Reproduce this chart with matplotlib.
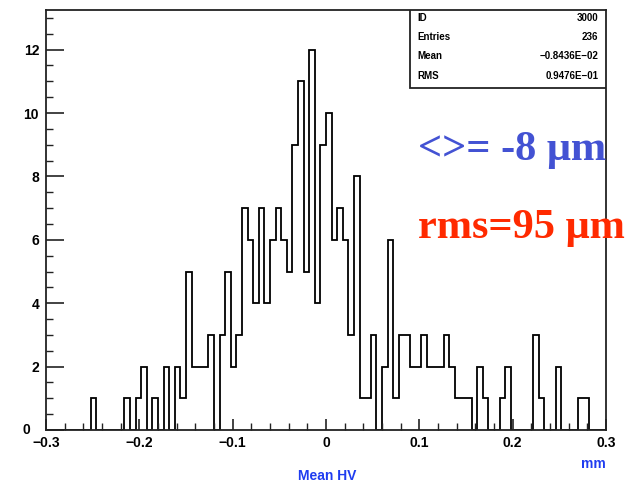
import matplotlib
matplotlib.use("Agg")
import matplotlib.pyplot as plt
import matplotlib.transforms as mtransforms
import numpy as np
from matplotlib.patches import Rectangle
from matplotlib.ticker import MultipleLocator

# DATA: 100 bins between -0.3 and 0.3 mm
x_lo, x_hi, n_bins = -0.3, 0.3, 100
counts = [0, 0, 0, 0, 0, 0, 0, 0, 1, 0,
          0, 0, 0, 0, 1, 0, 1, 2, 0, 1,
          0, 2, 0, 2, 1, 5, 2, 2, 2, 3,
          0, 3, 5, 2, 3, 7, 6, 4, 7, 4,
          6, 7, 6, 5, 9, 11, 5, 12, 4, 9,
          10, 6, 7, 6, 3, 8, 1, 1, 3, 0,
          2, 6, 1, 3, 3, 2, 2, 3, 2, 2,
          2, 3, 2, 1, 1, 1, 0, 2, 1, 0,
          0, 1, 2, 0, 0, 0, 0, 3, 1, 0,
          0, 2, 0, 0, 0, 1, 1, 0, 0, 0]
xticks = [-0.3, -0.2, -0.1, 0, 0.1, 0.2, 0.3]
xticklabels = ["\u22120.3", "\u22120.2", "\u22120.1", "0", "0.1", "0.2", "0.3"]
yticks = [0, 2, 4, 6, 8, 10, 12]
stat_names = ["ID", "Entries", "Mean", "RMS"]
stat_values = ["3000", "236", "\u22120.8436E\u221202", "0.9476E\u221201"]

edges = np.linspace(x_lo, x_hi, n_bins + 1)

# FIGURE
fig = plt.figure(figsize=(6.28, 4.86), dpi=100)
ax = fig.add_axes([46/628, 56/486, 560/628, 420/486])

ax.stairs(counts, edges, color="black", linewidth=1.3, baseline=0)
ax.set_xlim(x_lo, x_hi)
ax.set_ylim(0, 13.25)

# TICKS (PAW style, inward)
ax.set_xticks(xticks)
ax.set_xticklabels(xticklabels)
ax.set_yticks(yticks)
ax.xaxis.set_minor_locator(MultipleLocator(0.02))
ax.yaxis.set_minor_locator(MultipleLocator(0.5))
ax.tick_params(axis="both", which="major", direction="in", length=8, width=1.2,
               labelsize=10, colors="#222222")
ax.tick_params(axis="both", which="minor", direction="in", length=5, width=1.0,
               colors="#222222")
ax.tick_params(axis="x", pad=4)
ax.tick_params(axis="y", pad=5)
ax.yaxis.set_tick_params(which="major", length=13)
for lab in ax.get_xticklabels() + ax.get_yticklabels():
    lab.set_fontweight("bold")
    lab.set_family("Liberation Sans")
    lab.set_color("black")
# the y "0" sits further left, clear of the x labels
zero_lab = ax.get_yticklabels()[0]
zero_lab.set_transform(zero_lab.get_transform() +
                       mtransforms.ScaledTranslation(-9/100, 2/100, fig.dpi_scale_trans))
for sp in ax.spines.values():
    sp.set_linewidth(1.3)
    sp.set_color("#222222")

# STATS BOX
ax.add_patch(Rectangle((0.65, 0.814), 0.35, 0.186, transform=ax.transAxes,
                       facecolor="white", edgecolor="#222222", linewidth=1.3, zorder=5))
rows_y = [0.981, 0.936, 0.890, 0.843]
for name, val, yy in zip(stat_names, stat_values, rows_y):
    ax.text(0.664, yy, name, transform=ax.transAxes, ha="left", va="center",
            fontsize=7, fontweight="bold", family="Liberation Sans", zorder=6)
    ax.text(0.986, yy, val, transform=ax.transAxes, ha="right", va="center",
            fontsize=7, fontweight="bold", family="Liberation Sans", zorder=6)

# AXIS TITLES
fig.text(327/628, 1 - 476/486, "Mean HV", ha="center", va="center", fontsize=10,
         fontweight="bold", family="Liberation Sans", color="#1f3cf0")
fig.text(593/628, 1 - 464/486, "mm", ha="center", va="center", fontsize=10,
         fontweight="bold", family="Liberation Sans", color="#1f3cf0")

# ANNOTATIONS
fig.text(418/628, 1 - 160/486, "<>= -8 \u03bcm", ha="left", va="baseline", fontsize=30.5,
         fontweight="bold", family="Liberation Serif", color="#4352d3", zorder=10)
fig.text(418/628, 1 - 238/486, "rms=95 \u03bcm", ha="left", va="baseline", fontsize=30.5,
         fontweight="bold", family="Liberation Serif", color="#ff2a00", zorder=10)

fig.savefig("out.png", dpi=100)
